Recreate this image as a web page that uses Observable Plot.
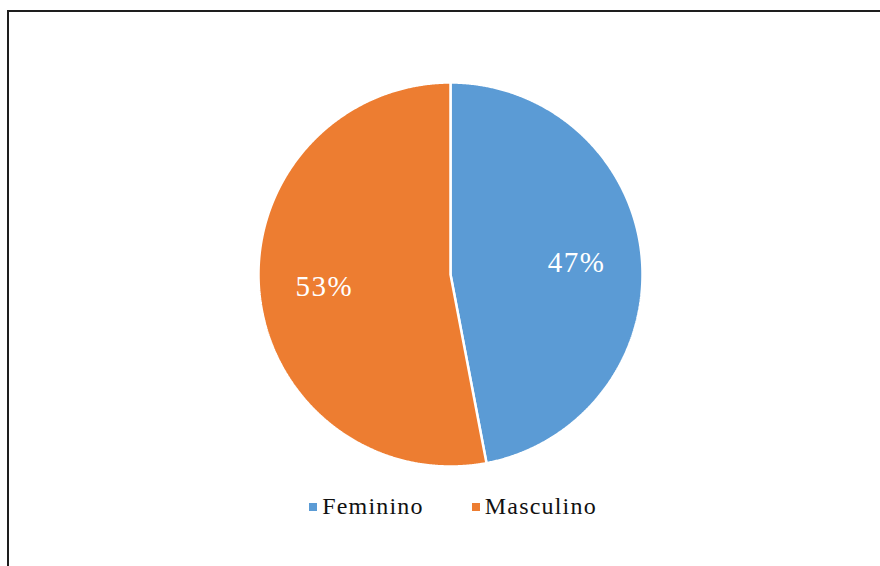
<!DOCTYPE html>
<html>
<head>
<meta charset="utf-8">
<script src="https://cdn.jsdelivr.net/npm/d3@7"></script>
<script src="https://cdn.jsdelivr.net/npm/@observablehq/plot@0.6"></script>
<style>
  html, body { margin: 0; padding: 0; background: #fff; }
  body { width: 880px; height: 566px; overflow: hidden; position: relative; }
  #frame { position: absolute; left: 7px; top: 10px; width: 900px; height: 600px; border: 2px solid #1e1e1e; box-sizing: border-box; }
  #chart { position: absolute; left: 0; top: 0; }
  #chart text { letter-spacing: 1.5px; font-family: 'Liberation Serif'; }
  #legend { position: absolute; top: 493px; left: 0; width: 906px; display: flex; justify-content: center; gap: 48px;
            font-family: 'Liberation Serif'; font-size: 24px; color: #111; letter-spacing: 1.2px; }
  #legend .item { display: flex; align-items: center; }
  #legend .sw { width: 8px; height: 8px; margin-right: 5px; }
</style>
</head>
<body>
<div id="frame"></div>
<div id="chart"></div>
<div id="legend"></div>
<script>
const categories = ["Feminino", "Masculino"];
const values = [47, 53];
const labels = ["47%", "53%"];
const colors = ["#5B9BD5", "#ED7D31"];

const pie = d3.pie().sort(null).value(d => d.value)(categories.map((c, i) => ({category: c, value: values[i], label: labels[i]})));

const pts = [];
for (const a of pie) {
  const c = a.data.category;
  pts.push({category: c, x: 0, y: 0});
  const n = Math.max(2, Math.ceil((a.endAngle - a.startAngle) / 0.005));
  for (let k = 0; k <= n; k++) {
    const t = a.startAngle + (a.endAngle - a.startAngle) * k / n;
    pts.push({category: c, x: Math.sin(t), y: Math.cos(t)});
  }
  pts.push({category: c, x: 0, y: 0});
}
const lab = pie.map(a => {
  const m = (a.startAngle + a.endAngle) / 2, r = 0.66;
  return {category: a.data.category, label: a.data.label, x: r * Math.sin(m), y: r * Math.cos(m)};
});

const cx = 450, cy = 274, R = 192;
const chart = Plot.plot({
  width: 880, height: 480,
  margin: 0,
  x: {domain: [-1, 1], range: [cx - R, cx + R], axis: null},
  y: {domain: [-1, 1], range: [cy + R, cy - R], axis: null},
  color: {domain: categories, range: colors},
  marks: [
    Plot.line(pts, {x: "x", y: "y", z: "category", fill: "category", stroke: "white", strokeWidth: 2.5, strokeLinejoin: "miter"}),
    Plot.text(lab, {x: "x", y: "y", text: "label", fill: "white", fontSize: 29, fontFamily: "Liberation Serif"})
  ]
});
document.getElementById("chart").appendChild(chart);

const legend = document.getElementById("legend");
categories.forEach((c, i) => {
  const it = document.createElement("div"); it.className = "item";
  const sw = document.createElement("div"); sw.className = "sw"; sw.style.background = colors[i];
  const tx = document.createElement("span"); tx.textContent = c;
  it.appendChild(sw); it.appendChild(tx); legend.appendChild(it);
});
</script>
</body>
</html>
